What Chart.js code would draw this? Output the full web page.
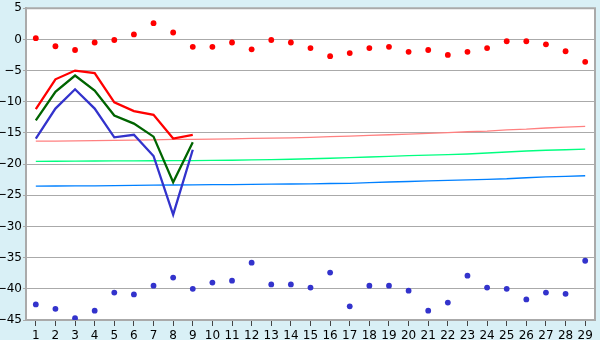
<!DOCTYPE html>
<html>
<head>
<meta charset="utf-8">
<script src="https://cdn.jsdelivr.net/npm/chart.js@4"></script>
<style>
html,body{margin:0;padding:0;background:#d9f0f6;}
#c{display:block;}
</style>
</head>
<body>
<canvas id="c" width="600" height="340"></canvas>
<script>
const categories = ['1','2','3','4','5','6','7','8','9','10','11','12','13','14','15','16','17','18','19','20','21','22','23','24','25','26','27','28','29'];
const yTicks = [5,0,-5,-10,-15,-20,-25,-30,-35,-40,-45];

const redLine   = [-11.2,-6.4,-5.0,-5.4,-10.1,-11.5,-12.1,-15.9,-15.3];
const greenLine = [-13.0,-8.4,-5.8,-8.2,-12.2,-13.5,-15.6,-22.9,-16.5];
const blueLine  = [-15.9,-11.1,-8.0,-11.1,-15.7,-15.3,-18.7,-28.1,-17.7];

const redPoints  = [0.2,-1.1,-1.7,-0.5,-0.1,0.8,2.6,1.1,-1.2,-1.2,-0.5,-1.6,-0.1,-0.5,-1.4,-2.7,-2.2,-1.4,-1.2,-2.0,-1.7,-2.5,-2.0,-1.4,-0.3,-0.3,-0.8,-1.9,-3.6];
const bluePoints = [-42.5,-43.2,-44.7,-43.5,-40.6,-40.9,-39.5,-38.2,-40.0,-39.0,-38.7,-35.8,-39.3,-39.3,-39.8,-37.4,-42.8,-39.5,-39.5,-40.3,-43.5,-42.2,-37.9,-39.8,-40.0,-41.7,-40.6,-40.8,-35.5];

const pinkThin  = [-16.32,-16.30,-16.27,-16.24,-16.21,-16.16,-16.10,-16.05,-16.02,-15.98,-15.95,-15.89,-15.84,-15.79,-15.71,-15.60,-15.52,-15.40,-15.29,-15.19,-15.08,-14.95,-14.81,-14.71,-14.52,-14.40,-14.21,-14.08,-13.94];
const greenThin = [-19.56,-19.54,-19.52,-19.50,-19.49,-19.48,-19.46,-19.44,-19.43,-19.41,-19.38,-19.33,-19.27,-19.22,-19.14,-19.06,-18.97,-18.86,-18.75,-18.65,-18.57,-18.49,-18.38,-18.22,-18.06,-17.90,-17.78,-17.70,-17.59];
const blueThin  = [-23.52,-23.51,-23.49,-23.48,-23.44,-23.41,-23.38,-23.35,-23.33,-23.30,-23.29,-23.25,-23.22,-23.19,-23.16,-23.11,-23.08,-22.98,-22.87,-22.79,-22.70,-22.62,-22.52,-22.44,-22.35,-22.19,-22.06,-21.98,-21.87];

const bgPlugin = {
  id: 'bg',
  beforeDraw(chart) {
    const ctx = chart.ctx, a = chart.chartArea;
    ctx.save();
    ctx.fillStyle = '#d9f0f6';
    ctx.fillRect(0, 0, chart.width, chart.height);
    ctx.fillStyle = '#ffffff';
    ctx.fillRect(a.left, a.top, a.right - a.left, a.bottom - a.top);
    ctx.restore();
  },
  afterDraw(chart) {
    const ctx = chart.ctx, a = chart.chartArea;
    ctx.save();
    ctx.strokeStyle = '#aaaaaa';
    ctx.lineWidth = 2;
    ctx.beginPath();
    ctx.moveTo(a.left, a.top);
    ctx.lineTo(a.right, a.top);
    ctx.lineTo(a.right, a.bottom);
    ctx.stroke();
    ctx.restore();
  }
};

function lineDs(data, color, width) {
  return {type:'line', data, borderColor:color, borderWidth:width, pointRadius:0, fill:false, tension:0, spanGaps:false};
}
function ptsDs(data, color) {
  return {type:'line', data, showLine:false, pointRadius:2.9, pointHoverRadius:2.9, pointStyle:'circle', backgroundColor:color, borderWidth:0, borderColor:color};
}

new Chart(document.getElementById('c'), {
  type: 'line',
  data: {
    labels: categories,
    datasets: [
      lineDs(redLine, '#ff0000', 2.3),
      lineDs(greenLine, '#006400', 2.3),
      lineDs(blueLine, '#3333cc', 2.3),
      ptsDs(redPoints, '#ff0000'),
      ptsDs(bluePoints, '#3333cc'),
      lineDs(pinkThin, '#ff8080', 1.3),
      lineDs(greenThin, '#00ff80', 1.3),
      lineDs(blueThin, '#0080ff', 1.3)
    ]
  },
  options: {
    responsive: false,
    animation: false,
    events: [],
    layout: {padding: {top: 5, right: 5, left: 0, bottom: 0}},
    plugins: {legend: {display: false}, tooltip: {enabled: false}},
    scales: {
      x: {
        offset: true,
        grid: {display: true, drawOnChartArea: false, drawTicks: true, tickLength: 6, offset: false, color: '#444444'},
        border: {display: true, color: '#aaaaaa', width: 2},
        ticks: {color: '#000', font: {family: 'DejaVu Sans', size: 12}, padding: 3, maxRotation: 0, autoSkip: false},
        afterFit(a) { a.height = 20; }
      },
      y: {
        min: -45, max: 5,
        afterBuildTicks(a) { a.ticks = yTicks.map(v => ({value: v})); },
        grid: {color: '#aaaaaa', lineWidth: 1, drawTicks: true, tickLength: 3},
        border: {display: true, color: '#aaaaaa', width: 2},
        ticks: {color: '#000', font: {family: 'DejaVu Sans', size: 12}, padding: 1,
          callback: v => (v < 0 ? '\u2212' + Math.abs(v) : String(v))},
        afterFit(a) { a.width = 26; }
      }
    }
  },
  plugins: [bgPlugin]
});
</script>
</body>
</html>
